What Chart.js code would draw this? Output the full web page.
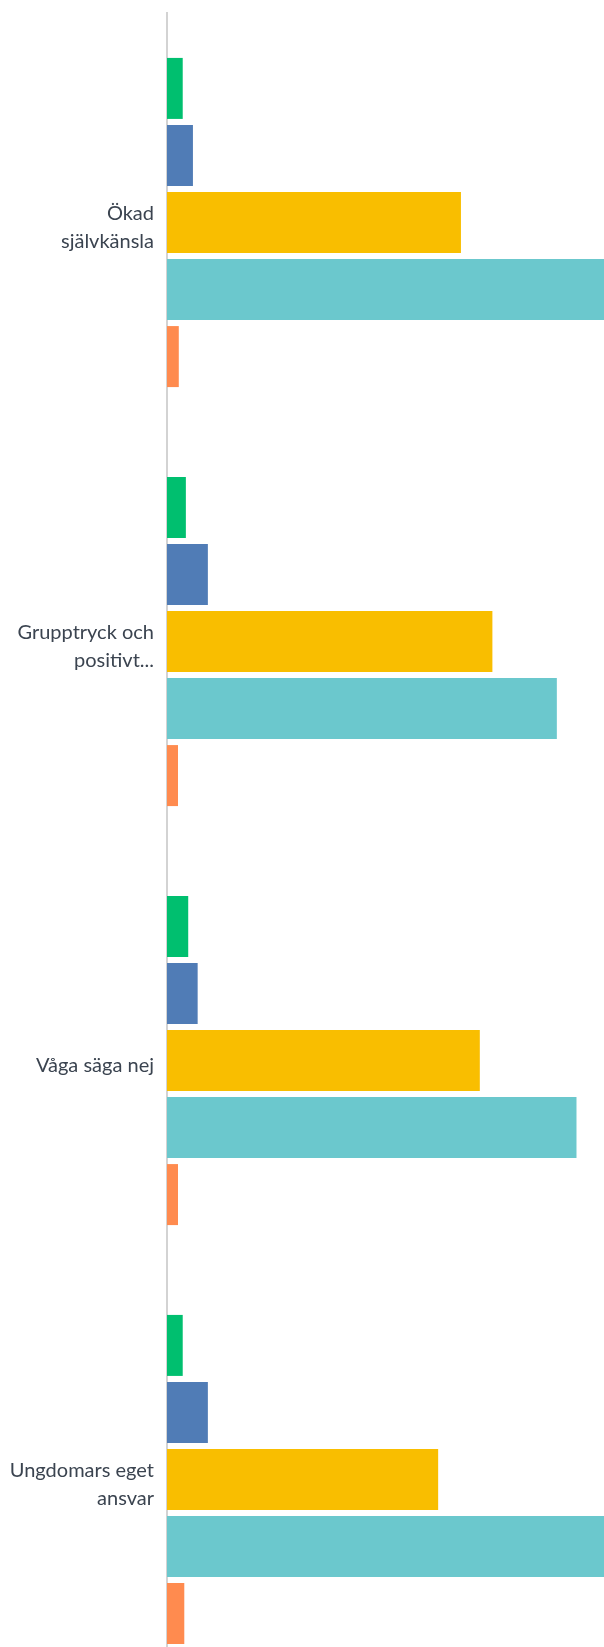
<!DOCTYPE html>
<html>
<head>
<meta charset="utf-8">
<script src="https://cdn.jsdelivr.net/npm/chart.js@4/dist/chart.umd.min.js"></script>
<style>
  html, body { margin: 0; padding: 0; background: #fff; overflow: hidden; }
  #wrap { width: 604px; height: 1690px; }
</style>
</head>
<body>
<div id="wrap"><canvas id="chart" width="604" height="1690"></canvas></div>
<script>
const categories = [
  ['Ökad', 'självkänsla'],
  ['Grupptryck och', 'positivt...'],
  'Våga säga nej',
  ['Ungdomars eget', 'ansvar'],
];

// percent per answer option
const series1 = [2.0, 2.4, 2.7, 2.0];
const series2 = [3.3, 5.2, 3.9, 5.2];
const series3 = [37.4, 41.4, 39.8, 34.5];
const series4 = [55.8, 49.6, 52.1, 56.1];
const series5 = [1.5, 1.4, 1.4, 2.2];

const seriesNames = ['Serie 1', 'Serie 2', 'Serie 3', 'Serie 4', 'Serie 5'];
const colors = ['#00bf6f', '#507cb6', '#f9be00', '#6bc8cd', '#ff8b4f'];

const xMax = 55.6;

const ctx = document.getElementById('chart').getContext('2d');
new Chart(ctx, {
  type: 'bar',
  data: {
    labels: categories,
    datasets: [series1, series2, series3, series4, series5].map((d, i) => ({
      label: seriesNames[i],
      data: d,
      backgroundColor: colors[i],
      borderWidth: 0,
      categoryPercentage: 0.8,
      barPercentage: 0.91,
    })),
  },
  options: {
    indexAxis: 'y',
    responsive: false,
    animation: false,
    layout: {
      padding: { top: 13, bottom: 1, left: 0, right: 0 },
    },
    plugins: {
      legend: { display: false },
      tooltip: { enabled: false },
    },
    scales: {
      x: {
        min: 0,
        max: xMax,
        display: false,
      },
      y: {
        afterFit: (scale) => {
          scale.width = 167;
          scale.paddingTop = 0;
          scale.paddingBottom = 0;
        },
        grid: { display: false, drawTicks: false },
        border: { display: true, color: '#d3d3d3', width: 2 },
        ticks: {
          padding: 13,
          labelOffset: 5,
          color: '#3b4450',
          font: { family: 'Lato', size: 20, lineHeight: 1.4 },
        },
      },
    },
  },
});
</script>
</body>
</html>
